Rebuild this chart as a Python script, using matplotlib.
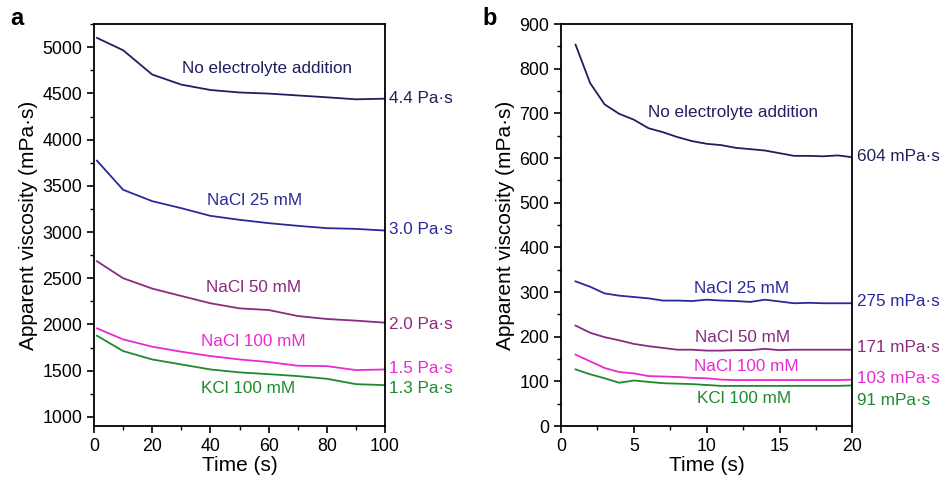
import matplotlib
matplotlib.use("Agg")
import matplotlib.pyplot as plt
from matplotlib.ticker import MultipleLocator

plt.rcParams['font.family'] = ['Liberation Sans', 'DejaVu Sans']

# panel a: 0-100 s
time_a = [1, 10, 20, 30, 40, 50, 60, 70, 80, 90, 100]
none_a = [5101, 4967, 4704, 4595, 4537, 4510, 4498, 4478, 4458, 4436, 4443]
nacl25_a = [3772, 3457, 3334, 3258, 3175, 3132, 3096, 3067, 3042, 3034, 3016]
nacl50_a = [2684, 2500, 2388, 2308, 2229, 2174, 2156, 2091, 2059, 2041, 2019]
nacl100_a = [1958, 1838, 1759, 1705, 1658, 1621, 1593, 1553, 1549, 1506, 1513]
kcl100_a = [1878, 1712, 1621, 1567, 1513, 1481, 1462, 1441, 1412, 1354, 1343]

# panel b: 0-20 s
time_b = list(range(1, 21))
none_b = [854, 768, 720, 699, 686, 667, 658, 647, 638, 632,
          629, 623, 620, 617, 611, 605, 605, 604, 606, 602]
nacl25_b = [324, 312, 297, 292, 289, 286, 281, 281, 280, 283,
            281, 280, 278, 283, 279, 275, 276, 275, 275, 275]
nacl50_b = [225, 209, 199, 192, 184, 179, 175, 171, 171, 169,
            169, 170, 170, 173, 170, 171, 171, 171, 171, 171]
nacl100_b = [160, 145, 130, 121, 118, 112, 111, 110, 108, 107,
             104, 103, 103, 103, 103, 103, 103, 103, 103, 104]
kcl100_b = [127, 116, 107, 97, 102, 99, 96, 95, 94, 92,
            90, 90, 90, 90, 90, 90, 90, 90, 90, 91]

names = ["No electrolyte addition", "NaCl 25 mM", "NaCl 50 mM", "NaCl 100 mM", "KCl 100 mM"]
colors = ["#1f1f5e", "#2a2a9a", "#8a2a80", "#e82ad2", "#1e8a2e"]
end_a = ["4.4 Pa·s", "3.0 Pa·s", "2.0 Pa·s", "1.5 Pa·s", "1.3 Pa·s"]
end_b = ["604 mPa·s", "275 mPa·s", "171 mPa·s", "103 mPa·s", "91 mPa·s"]

fig = plt.figure(figsize=(9.46, 4.82), dpi=100)
ax1 = fig.add_axes([0.0994, 0.116, 0.3076, 0.834])
ax2 = fig.add_axes([0.593, 0.116, 0.308, 0.834])


def style(ax, xlim, ylim, xmaj, xmin, ymaj, ymin):
    ax.set_xlim(*xlim)
    ax.set_ylim(*ylim)
    ax.xaxis.set_major_locator(MultipleLocator(xmaj))
    ax.xaxis.set_minor_locator(MultipleLocator(xmin))
    ax.yaxis.set_major_locator(MultipleLocator(ymaj))
    ax.yaxis.set_minor_locator(MultipleLocator(ymin))
    ax.tick_params(which="major", direction="out", length=5, width=1.2, labelsize=12.8)
    ax.tick_params(which="minor", direction="out", length=3, width=1.0)
    for s in ax.spines.values():
        s.set_linewidth(1.3)
    ax.set_xlabel("Time (s)", fontsize=15, labelpad=1)
    ax.set_ylabel("Apparent viscosity (mPa·s)", fontsize=15, labelpad=3)


series_a = [none_a, nacl25_a, nacl50_a, nacl100_a, kcl100_a]
series_b = [none_b, nacl25_b, nacl50_b, nacl100_b, kcl100_b]

for ys, c in zip(series_a, colors):
    ax1.plot(time_a, ys, color=c, lw=1.3)
for ys, c in zip(series_b, colors):
    ax2.plot(time_b, ys, color=c, lw=1.3)

style(ax1, (0, 100), (900, 5250), 20, 10, 500, 250)
style(ax2, (0, 20), (0, 900), 5, 2.5, 100, 50)

# in-plot labels
lab_a = [(59.3, 4769), (55.3, 3338), (54.8, 2402), (54.8, 1813), (53, 1307)]
lab_b = [(11.8, 701), (12.4, 307), (12.45, 198), (12.75, 134), (12.6, 61)]
for (x, y), n, c in zip(lab_a, names, colors):
    ax1.text(x, y, n, color=c, fontsize=12.3, ha="center", va="center")
for (x, y), n, c in zip(lab_b, names, colors):
    ax2.text(x, y, n, color=c, fontsize=12.3, ha="center", va="center")

# end values
endy_a = [4443, 3023, 2004, 1524, 1307]
endy_b = [604, 280, 175, 107, 57]
for y, t, c in zip(endy_a, end_a, colors):
    ax1.text(1.012, y, t, color=c, fontsize=12.3, ha="left", va="center",
             transform=ax1.get_yaxis_transform())
for y, t, c in zip(endy_b, end_b, colors):
    ax2.text(1.015, y, t, color=c, fontsize=12.3, ha="left", va="center",
             transform=ax2.get_yaxis_transform())

fig.text(0.011, 0.962, "a", fontsize=17, fontweight="bold", va="center")
fig.text(0.510, 0.962, "b", fontsize=17, fontweight="bold", va="center")

fig.savefig("out.png", dpi=100)
